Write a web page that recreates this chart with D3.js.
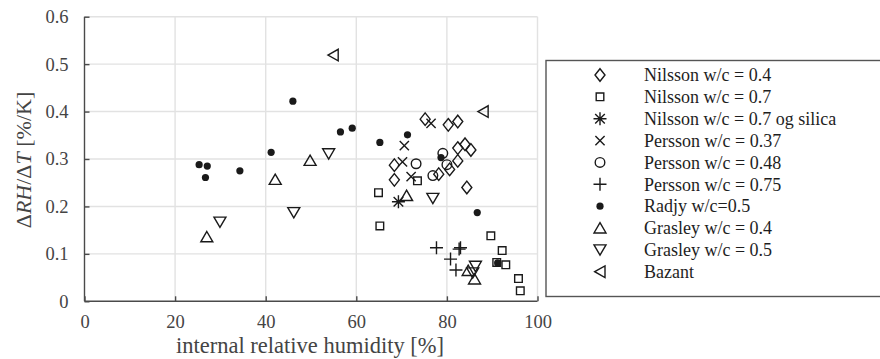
<!DOCTYPE html>
<html>
<head>
<meta charset="utf-8">
<script src="https://cdn.jsdelivr.net/npm/d3@7"></script>
<style>
  html, body { margin: 0; padding: 0; background: #fff; }
  svg { display: block; }
</style>
</head>
<body>
<svg id="chart" width="880" height="359"></svg>
<script>
const serif = "'Liberation Serif', 'DejaVu Serif', serif";

// Axis ticks
const xTicks = [0, 20, 40, 60, 80, 100];
const yTicks = [0, 0.1, 0.2, 0.3, 0.4, 0.5, 0.6];

// Series: [internal RH %, dRH/dT %/K]
const nilsson04 = [[75.2,0.384],[80.3,0.372],[82.4,0.379],[82.4,0.323],[84.0,0.331],[85.3,0.319],
  [82.4,0.296],[68.4,0.287],[68.4,0.256],[84.4,0.240],[80.6,0.278],[78.2,0.268]];
const nilsson07 = [[64.9,0.229],[65.2,0.159],[73.5,0.254],[89.7,0.138],[92.2,0.107],[91.0,0.082],
  [93.0,0.077],[95.8,0.048],[96.2,0.022]];
const nilsson07silica = [[69.3,0.210]];
const persson037 = [[76.5,0.375],[70.6,0.328],[70.2,0.294],[72.1,0.263]];
const persson048 = [[73.2,0.290],[79.1,0.312],[80.0,0.288],[76.9,0.265]];
const persson075 = [[77.7,0.113],[82.7,0.110],[83.0,0.113],[80.8,0.089],[82.0,0.066]];
const radjy05 = [[25.3,0.288],[27.1,0.285],[26.7,0.261],[34.3,0.275],[41.2,0.314],[46.0,0.422],
  [56.5,0.357],[59.1,0.365],[65.2,0.335],[71.3,0.351],[78.7,0.303],[86.7,0.187],[91.2,0.081]];
const grasley04 = [[27.0,0.136],[42.1,0.257],[49.8,0.297],[71.1,0.223],[84.7,0.065],[86.1,0.047]];
const grasley05 = [[29.9,0.167],[46.2,0.187],[53.9,0.311],[76.9,0.217],[86.3,0.074],[85.7,0.060]];
const bazant = [[54.9,0.519],[88.0,0.400]];

const seriesNames = ["Nilsson w/c = 0.4", "Nilsson w/c = 0.7", "Nilsson w/c = 0.7 og silica",
  "Persson w/c = 0.37", "Persson w/c = 0.48", "Persson w/c = 0.75", "Radjy w/c=0.5",
  "Grasley w/c = 0.4", "Grasley w/c = 0.5", "Bazant"];
const seriesData = [nilsson04, nilsson07, nilsson07silica, persson037, persson048, persson075,
  radjy05, grasley04, grasley05, bazant];
const seriesMarkers = ["diamond", "square", "asterisk", "cross", "circle", "plus", "dot",
  "triUp", "triDown", "triLeft"];

const svg = d3.select("#chart");
const plot = { left: 84.5, right: 537.5, top: 16.7, bottom: 301.3 };

const x = d3.scaleLinear().domain([0, 100]).range([plot.left, plot.right]);
const y = d3.scaleLinear().domain([0, 0.6]).range([plot.bottom, plot.top]);

const ink = "#1a1a1a";

// Marker outlines centred on (0,0)
function markerPath(type) {
  switch (type) {
    case "diamond": return "M0,-6.3L5,0L0,6.3L-5,0Z";
    case "square": return "M-3.8,-3.8H3.8V3.8H-3.8Z";
    case "asterisk": return "M-6.5,0H6.5M0,-6.5V6.5M-4.8,-4.8L4.8,4.8M-4.8,4.8L4.8,-4.8";
    case "cross": return "M-4.6,-4.6L4.6,4.6M-4.6,4.6L4.6,-4.6";
    case "plus": return "M-6.5,0H6.5M0,-6.5V6.5";
    case "triUp": return "M0,-5.3L6,5L-6,5Z";
    case "triDown": return "M0,5.3L6,-5L-6,-5Z";
    case "triLeft": return "M-5.3,0L5,-5.8L5,5.8Z";
  }
  return null;
}

function drawMarker(g, type) {
  if (type === "circle") {
    g.append("circle").attr("r", 4.8).attr("fill", "none").attr("stroke", ink).attr("stroke-width", 1.4);
  } else if (type === "dot") {
    g.append("circle").attr("r", 3.6).attr("fill", ink);
  } else {
    g.append("path").attr("d", markerPath(type)).attr("fill", "none")
      .attr("stroke", ink).attr("stroke-width", 1.4).attr("stroke-linejoin", "miter");
  }
}

// Grid
const grid = svg.append("g");
grid.selectAll("line.gx").data(xTicks.filter(d => d > 0)).join("line")
  .attr("x1", d => x(d)).attr("x2", d => x(d)).attr("y1", plot.top).attr("y2", plot.bottom)
  .attr("stroke", "#e2e2e2").attr("stroke-width", 1.4);
grid.selectAll("line.gy").data(yTicks.filter(d => d > 0)).join("line")
  .attr("x1", plot.left).attr("x2", plot.right).attr("y1", d => y(d)).attr("y2", d => y(d))
  .attr("stroke", "#e2e2e2").attr("stroke-width", 1.4);

// Axes (ticks pointing inward)
const xAxis = d3.axisBottom(x).tickValues(xTicks).tickSizeInner(-5).tickSizeOuter(0).tickPadding(14)
  .tickFormat(d3.format("d"));
const yAxis = d3.axisLeft(y).tickValues(yTicks).tickSizeInner(-5).tickSizeOuter(0).tickPadding(16)
  .tickFormat(d => d === 0 ? "0" : d3.format(".1f")(d));

const gx = svg.append("g").attr("transform", `translate(0,${plot.bottom})`).call(xAxis);
const gy = svg.append("g").attr("transform", `translate(${plot.left},0)`).call(yAxis);
[gx, gy].forEach(g => {
  g.attr("font-family", serif).attr("font-size", 18.5);
  g.select(".domain").attr("stroke", "#4a4a4a").attr("stroke-width", 1.4);
  g.selectAll(".tick line").attr("stroke", "#4a4a4a").attr("stroke-width", 1.4);
  g.selectAll(".tick text").attr("fill", "#444");
});
gx.select(".domain").attr("d", `M${plot.left},0H${plot.right}`);
gy.select(".domain").attr("d", `M0,${plot.bottom}V${plot.top}`);

// Axis titles
svg.append("text").attr("x", 310).attr("y", 353)
  .attr("text-anchor", "middle").attr("font-family", serif).attr("font-size", 22.5).attr("fill", "#444")
  .text("internal relative humidity [%]");

const yt = svg.append("text").attr("transform", `translate(31,160) rotate(-90)`)
  .attr("text-anchor", "middle").attr("font-family", serif).attr("font-size", 22).attr("fill", "#444");
yt.append("tspan").text("\u0394");
yt.append("tspan").attr("font-style", "italic").text("RH");
yt.append("tspan").text("/\u0394");
yt.append("tspan").attr("font-style", "italic").text("T");
yt.append("tspan").text(" [%/K]");

// Data markers
const marks = svg.append("g");
seriesData.forEach((data, i) => {
  marks.append("g").selectAll("g").data(data).join("g")
    .attr("transform", d => `translate(${x(d[0])},${y(d[1])})`)
    .each(function () { drawMarker(d3.select(this), seriesMarkers[i]); });
});

// Legend
const legend = svg.append("g");
legend.append("rect").attr("x", 546).attr("y", 60.5).attr("width", 340).attr("height", 236)
  .attr("fill", "#fff").attr("stroke", "#555").attr("stroke-width", 1.4);
const rowY = d3.scaleLinear().domain([0, 9]).range([75, 271.7]);
seriesNames.forEach((name, i) => {
  const g = legend.append("g").attr("transform", `translate(600,${rowY(i)})`);
  drawMarker(g, seriesMarkers[i]);
  legend.append("text").attr("x", 644).attr("y", rowY(i)).attr("dy", "0.35em")
    .attr("font-family", serif).attr("font-size", 18).attr("fill", "#1e1e1e").text(name);
});
</script>
</body>
</html>
